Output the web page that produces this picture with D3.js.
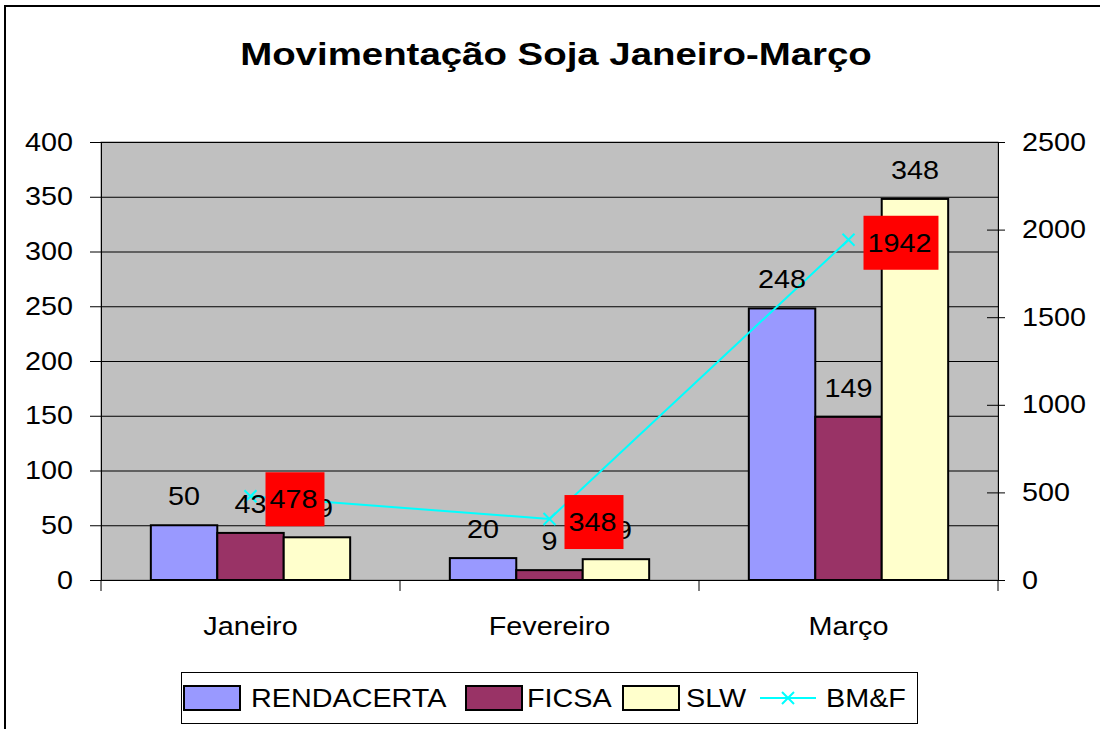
<!DOCTYPE html>
<html>
<head>
<meta charset="utf-8">
<script src="https://cdn.jsdelivr.net/npm/d3@7"></script>
<style>
  body { margin: 0; background: #fff; }
  svg text { font-family: "Liberation Sans", Arial, sans-serif; }
</style>
</head>
<body>
<div id="chart"></div>
<script>
// data
var categories = ["Janeiro", "Fevereiro", "Março"];
var seriesNames = ["RENDACERTA", "FICSA", "SLW"];
var rendacerta = [50, 20, 248];
var ficsa = [43, 9, 149];
var slw = [39, 19, 348];
var bmf = [478, 348, 1942];
var leftTicks = [0, 50, 100, 150, 200, 250, 300, 350, 400];
var rightTicks = [0, 500, 1000, 1500, 2000, 2500];
var colors = ["#9999FF", "#993366", "#FFFFCC"];

var W = 1100, H = 729;
var plot = { left: 101, right: 998, top: 142, bottom: 580 };
var FS = "25px";

var svg = d3.select("#chart").append("svg")
    .attr("width", W).attr("height", H);

// the original text is a bit wider than Arial, stretch it horizontally
function stretch(sel, k) {
    sel.each(function () {
        var w = this.getComputedTextLength();
        d3.select(this).attr("textLength", w * k).attr("lengthAdjust", "spacingAndGlyphs");
    });
}

// outer chart border
svg.append("rect")
    .attr("x", 5).attr("y", 6).attr("width", 1100).attr("height", 740)
    .attr("fill", "#fff").attr("stroke", "#000").attr("stroke-width", 2);

// title
svg.append("text")
    .attr("x", 556).attr("y", 65)
    .attr("text-anchor", "middle")
    .style("font-size", "32px").style("font-weight", "bold")
    .text("Movimentação Soja Janeiro-Março")
    .call(stretch, 1.2);

// scales
var x = d3.scaleBand().domain(categories).range([plot.left, plot.right]);
var y = d3.scaleLinear().domain([0, 400]).range([plot.bottom, plot.top]);
var y2 = d3.scaleLinear().domain([0, 2500]).range([plot.bottom, plot.top]);
var bw = x.bandwidth() / 4.5;
var xs = d3.scaleBand().domain(seriesNames)
    .range([(x.bandwidth() - 3 * bw) / 2, (x.bandwidth() + 3 * bw) / 2]);

// plot background
svg.append("rect")
    .attr("x", plot.left).attr("y", plot.top)
    .attr("width", plot.right - plot.left).attr("height", plot.bottom - plot.top)
    .attr("fill", "#C0C0C0").attr("stroke", "#808080").attr("stroke-width", 1);

// gridlines
svg.append("g").selectAll("line")
    .data(leftTicks.filter(function (d) { return d > 0; }))
    .enter().append("line")
    .attr("x1", plot.left).attr("x2", plot.right)
    .attr("y1", function (d) { return y(d) + 0.5; })
    .attr("y2", function (d) { return y(d) + 0.5; })
    .attr("stroke", "#000").attr("stroke-width", 1);

// left axis
var gl = svg.append("g")
    .attr("transform", "translate(" + plot.left + ",0)")
    .call(d3.axisLeft(y).tickValues(leftTicks).tickSize(11).tickPadding(17));
gl.select(".domain").attr("stroke", "#000");
gl.selectAll("text").style("font-size", FS).attr("fill", "#000")
    .attr("font-family", null).call(stretch, 1.15);

// right axis
var gr = svg.append("g")
    .attr("transform", "translate(" + plot.right + ",0)")
    .call(d3.axisRight(y2).tickValues(rightTicks).tickFormat(d3.format("d"))
        .tickSize(7).tickPadding(17));
gr.selectAll(".tick line").attr("x1", -11);
gr.select(".domain").attr("stroke", "#000");
gr.selectAll("text").style("font-size", FS).attr("fill", "#000")
    .attr("font-family", null).call(stretch, 1.15);

// bottom axis
svg.append("line")
    .attr("x1", plot.left - 10).attr("x2", plot.right + 7)
    .attr("y1", plot.bottom + 0.5).attr("y2", plot.bottom + 0.5)
    .attr("stroke", "#000");
svg.append("g").selectAll("line")
    .data([0, 1, 2, 3]).enter().append("line")
    .attr("x1", function (i) { return plot.left + i * x.bandwidth(); })
    .attr("x2", function (i) { return plot.left + i * x.bandwidth(); })
    .attr("y1", plot.bottom).attr("y2", plot.bottom + 11)
    .attr("stroke", "#000");
svg.append("g").selectAll("text")
    .data(categories).enter().append("text")
    .attr("x", function (d) { return x(d) + x.bandwidth() / 2; })
    .attr("y", 635)
    .attr("text-anchor", "middle")
    .style("font-size", FS)
    .text(function (d) { return d; })
    .call(stretch, 1.15);

// bars
var series = [rendacerta, ficsa, slw];
var barData = [];
series.forEach(function (vals, s) {
    vals.forEach(function (v, i) {
        barData.push({ s: s, cat: categories[i], v: v });
    });
});
svg.append("g").selectAll("rect")
    .data(barData).enter().append("rect")
    .attr("x", function (d) { return x(d.cat) + xs(seriesNames[d.s]); })
    .attr("y", function (d) { return y(d.v); })
    .attr("width", xs.bandwidth())
    .attr("height", function (d) { return y(0) - y(d.v); })
    .attr("fill", function (d) { return colors[d.s]; })
    .attr("stroke", "#000").attr("stroke-width", 2);

// BM&F line
var pts = bmf.map(function (v, i) {
    return { x: x(categories[i]) + x.bandwidth() / 2, y: y2(v), v: v };
});
svg.append("path")
    .datum(pts)
    .attr("fill", "none").attr("stroke", "#00FFFF").attr("stroke-width", 2)
    .attr("d", d3.line().x(function (d) { return d.x; }).y(function (d) { return d.y; }));
svg.append("g").selectAll("path")
    .data(pts).enter().append("path")
    .attr("d", function (d) {
        return "M" + (d.x - 6) + "," + (d.y - 6) + "L" + (d.x + 6) + "," + (d.y + 6) +
            "M" + (d.x - 6) + "," + (d.y + 6) + "L" + (d.x + 6) + "," + (d.y - 6);
    })
    .attr("stroke", "#00FFFF").attr("stroke-width", 2);

// bar labels
svg.append("g").selectAll("text")
    .data(barData).enter().append("text")
    .attr("x", function (d) { return x(d.cat) + xs(seriesNames[d.s]) + xs.bandwidth() / 2; })
    .attr("y", function (d) { return y(d.v) - 20; })
    .attr("text-anchor", "middle")
    .style("font-size", FS)
    .text(function (d) { return d.v; })
    .call(stretch, 1.15);

// BM&F labels in red boxes
var lbl = svg.append("g").selectAll("g")
    .data(pts).enter().append("g");
var lblRect = lbl.append("rect").attr("fill", "#FF0000");
var lblText = lbl.append("text")
    .attr("x", function (d) { return d.x + 19; })
    .attr("y", function (d) { return d.y + 12; })
    .style("font-size", FS)
    .text(function (d) { return d.v; })
    .call(stretch, 1.15);
lblText.each(function (d, i) {
    var w = +d3.select(this).attr("textLength");
    d3.select(lblRect.nodes()[i])
        .attr("x", d.x + 15).attr("y", d.y - 24)
        .attr("width", w + 11).attr("height", 54);
});

// legend
var legend = svg.append("g");
legend.append("rect")
    .attr("x", 181.5).attr("y", 672.5).attr("width", 736).attr("height", 51)
    .attr("fill", "#fff").attr("stroke", "#000").attr("stroke-width", 1);
var legendItems = [
    { name: "RENDACERTA", x: 184, tx: 251, type: "bar", c: colors[0] },
    { name: "FICSA", x: 466, tx: 527, type: "bar", c: colors[1] },
    { name: "SLW", x: 623, tx: 686, type: "bar", c: colors[2] },
    { name: "BM&F", x: 760, tx: 826, type: "line", c: "#00FFFF" }
];
legendItems.forEach(function (it) {
    if (it.type === "bar") {
        legend.append("rect")
            .attr("x", it.x).attr("y", 686).attr("width", 56).attr("height", 24)
            .attr("fill", it.c).attr("stroke", "#000").attr("stroke-width", 2);
    } else {
        legend.append("line")
            .attr("x1", it.x).attr("x2", it.x + 56).attr("y1", 698).attr("y2", 698)
            .attr("stroke", it.c).attr("stroke-width", 2);
        var cx = it.x + 28;
        legend.append("path")
            .attr("d", "M" + (cx - 6) + ",692L" + (cx + 6) + ",704M" + (cx - 6) + ",704L" + (cx + 6) + ",692")
            .attr("stroke", it.c).attr("stroke-width", 2);
    }
    legend.append("text")
        .attr("x", it.tx).attr("y", 707)
        .style("font-size", FS)
        .text(it.name)
        .call(stretch, 1.15);
});
</script>
</body>
</html>
